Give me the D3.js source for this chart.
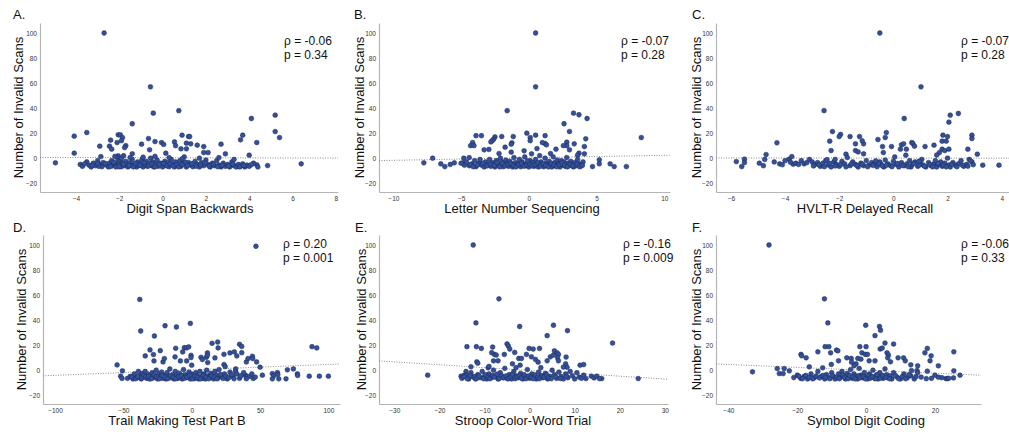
<!DOCTYPE html>
<html>
<head>
<meta charset="utf-8">
<script src="https://cdn.jsdelivr.net/npm/d3@7"></script>
<style>
body{margin:0;background:#fff}
svg{display:block;font-family:"Liberation Sans",Arial,sans-serif}
</style>
</head>
<body>
<svg width="1009" height="432"></svg>
<script>

// ---- data ----
var panelLetters = ["A.", "B.", "C.", "D.", "E.", "F."];
var xTitles = ["Digit Span Backwards", "Letter Number Sequencing", "HVLT-R Delayed Recall",
               "Trail Making Test Part B", "Stroop Color-Word Trial", "Symbol Digit Coding"];
var rhoLabels = ["ρ = -0.06", "ρ = -0.07", "ρ = -0.07", "ρ = 0.20", "ρ = -0.16", "ρ = -0.06"];
var pLabels = ["p = 0.34", "p = 0.28", "p = 0.28", "p = 0.001", "p = 0.009", "p = 0.33"];
var yTitle = "Number of Invalid Scans";
var yTicks = [-20, 0, 20, 40, 60, 80, 100];

var xTicksA = [-4, -2, 0, 2, 4, 6, 8];
var xTicksB = [-10, -5, 0, 5, 10];
var xTicksC = [-6, -4, -2, 0, 2, 4];
var xTicksD = [-100, -50, 0, 50, 100];
var xTicksE = [-30, -20, -10, 0, 10, 20, 30];
var xTicksF = [-40, -20, 0, 20];

// fit lines: [x1, y1], [x2, y2]
var fitA = [[-5.66, 0.6], [8.1, 0.1]];
var fitB = [[-11.06, -1.9], [10.4, 2.4]];
var fitC = [[-6.55, 0.2], [4.27, 0.0]];
var fitD = [[-108.8, -4.5], [108.5, 5.0]];
var fitE = [[-33.4, 7.4], [30.7, -7.2]];
var fitF = [[-43.6, 5.0], [33.4, -4.0]];

var ptsA = [[-2.7,100],[-0.56,57],[-0.43,36],[0.75,38],[-1.4,27.5],[-3.5,20.5],[-4.08,17.6],[-4.08,4],[-4.95,-3.7],
  [4.1,31.7],[5.2,34.4],[5.2,21.3],[5.4,16.5],[3.7,18.4],[3.6,14.7],[4.35,12.5],[4.0,2.4],[4.85,-5.9],[6.4,-4.5],
  [4.35,-5.3],[4.4,-7],[2.7,11.2],[2.9,3.5],[1.6,10.4],[1.9,9.3],[1.9,4.5],[2.1,4.5],[1.2,17.3],[1.25,17.3],[0.9,18.4],
  [1.1,12],[1.3,11.5],[1.1,7.5],[0.85,7.5],[0.55,13],[0.6,10],[-0.05,12.5],[0.05,11],[0.15,4],[-0.65,15.7],[-0.35,13.3],
  [-0.97,11.2],[-0.6,6.7],[-2.05,18.7],[-1.95,18.7],[-1.85,16.5],[-2.1,12.5],[-1.9,14],[-1.7,10],[-1.75,8.5],[-2.4,14.4],
  [-2.45,9.6],[-2.35,7.2],[-2.9,9.6],[-2.85,1.3],[-2.05,1.9],[-1.4,3.5],
  [-3.8,-5],[-3.7,-6.5],[-3.5,-3],[-3.4,-5.5],[-3.3,-7],[-3.2,-4],[-3.1,-6],[-3.0,-2],[-2.9,-5],[-2.8,-6.8],[-2.75,-3.5],
  [-2.6,-5.5],[-2.5,-7],[-2.45,-4],[-2.35,-2],[-2.3,-6],[-2.2,-4.5],[-2.15,-7],[-2.1,0.5],[-2.05,-3],[-2.0,-5.5],[-1.95,-1.5],
  [-1.9,-6.8],[-1.85,-4],[-1.8,2],[-1.75,-6],[-1.7,-2.5],[-1.65,-5],[-1.6,-7],[-1.5,-3.5],[-1.45,-6],[-1.4,-1],[-1.3,-5],
  [-1.2,-7],[-1.15,-3],[-1.1,-6],[-1.0,-4.5],[-0.95,-1],[-0.9,-7],[-0.8,-5.5],[-0.75,-2.5],[-0.7,-6.5],[-0.6,-4],[-0.55,0],
  [-0.5,-6],[-0.45,-3],[-0.4,-7],[-0.3,-5],[-0.25,-1.5],[-0.2,-6.5],[-0.1,-4],[0,-7],[0.1,-2.5],[0.15,-5.5],[0.25,-3.5],
  [0.3,-6.8],[0.4,-1],[0.45,-5],[0.55,-7],[0.6,-3],[0.7,-5.5],[0.8,-2],[0.85,-6.5],[0.95,-4],[1.0,1],[1.1,-7],[1.2,-3.5],
  [1.3,-5.5],[1.4,-6.8],[1.5,-2.5],[1.6,-5],[1.7,-7],[1.8,-3.5],[1.9,-6],[2.0,-1.5],[2.1,-5],[2.2,-7],[2.3,-4],[2.4,-6],
  [2.5,-2],[2.6,-5.5],[2.7,-7],[2.8,-4],[2.9,-6.5],[3.0,-5],[3.1,-7],[3.2,-3],[3.3,-6],[3.4,-7],[3.5,-5],[3.6,-6.5],
  [3.7,-4.5],[3.8,-7],[3.9,-5.5],[4.0,-6.5],[4.2,-4],[-2.2,1.5],[-1.9,0],[-1.5,0.5],[-0.9,0.8],[-0.35,1.5],[0.3,0.5],
  [0.9,-0.5],[1.7,0],[2.6,0.5],[3.3,-1],
  [-3.6,-4.5],[-3.25,-5.8],[-2.95,-6.5],[-2.65,-4.2],[-2.4,-6.6],[-2.25,-3.2],[-2.0,-6.9],[-1.8,-4.8],[-1.55,-5.9],
  [-1.35,-6.9],[-1.25,-4.2],[-1.05,-5.6],[-0.85,-3.6],[-0.65,-6.2],[-0.5,-4.6],[-0.35,-6.8],[-0.15,-5.2],[0.05,-4.2],
  [0.2,-6.2],[0.35,-4.4],[0.5,-6.1],[0.65,-4.8],[0.75,-6.9],[0.9,-5.1],[1.05,-3.2],[1.15,-5.8],[1.35,-4.4],[1.55,-6.4],
  [1.75,-5.2],[1.95,-3.8],[2.15,-6.4],[2.35,-5],[2.55,-6.8],[2.75,-5.6],[3.05,-6.2],[3.25,-4.6],[3.55,-7],[3.75,-5.8],
  [4.1,-5.2],[-3.0,-4.2]];

var ptsB = [[0.5,100],[0.5,57],[-1.6,38],[2.6,27.5],[3.3,36],[3.7,34.7],[4.3,31.7],[3.0,21.3],[8.3,16.5],[4.2,15.5],
  [4.1,9.3],[4.1,3.5],[3.7,4],[3.6,2.4],[3.35,11.5],[2.8,12.8],[2.8,10],[2.55,10],[3.0,6.7],[2.0,7.2],[1.6,3.7],[1.2,18],
  [1.2,11.7],[1.3,10.7],[1.0,12.5],[0.5,18.4],[0.1,16.5],[-0.15,20],[0.1,14],[0.6,7.7],[0.2,3.5],[-0.35,5.9],[-1.15,17.3],
  [-1.25,12.3],[-1.3,11.2],[-1.3,4.8],[-2.0,17.3],[-1.75,8.8],[-2.2,3.7],[-2.5,17],[-2.6,15.2],[-2.7,14],[-2.8,13],
  [-2.95,7],[-3.3,6.7],[-3.5,18],[-3.9,18],[-4.15,12.5],[-4.3,10],[-4.05,10],[-4.4,0.5],[-4.8,0],[-4.85,-3.7],[-4.75,-5.6],
  [-7.1,0],[-7.75,-3.7],[-6.5,-4.5],[-6.2,-6.7],[-5.8,-5],[-5.5,-3.7],[-5.0,-4],[4.7,-6.7],[5.2,-1.3],[5.2,-4.5],
  [6.0,-4.5],[6.3,-6.7],[7.2,-6.7],
  [-4.6,-3],[-4.4,-6],[-4.2,-4.5],[-4.0,-2],[-3.9,-6.8],[-3.7,-4],[-3.6,-1],[-3.5,-5.5],[-3.3,-7],[-3.2,-3],[-3.0,-5],
  [-2.9,-1],[-2.8,-6.5],[-2.7,-3.5],[-2.6,-5],[-2.5,-7],[-2.4,-2],[-2.3,-4.5],[-2.2,-6],[-2.1,0],[-2.0,-3],[-1.9,-6.8],
  [-1.8,-5],[-1.7,-1.5],[-1.6,-4],[-1.5,-6.5],[-1.4,-2.5],[-1.3,-5],[-1.2,-7],[-1.1,0.5],[-1.0,-3.5],[-0.9,-6],[-0.8,-4.5],
  [-0.7,-1],[-0.6,-6.8],[-0.5,-3],[-0.4,-5],[-0.3,1],[-0.2,-6],[-0.1,-4],[0,-7],[0.1,-2],[0.2,-5],[0.3,-3.5],[0.4,-6.5],
  [0.5,-1],[0.6,-4.5],[0.7,-7],[0.8,2],[0.9,-3],[1.0,-5.5],[1.1,-6.8],[1.2,0],[1.3,-4],[1.4,-6],[1.5,-2.5],[1.6,-5],
  [1.7,-7],[1.8,1],[1.9,-3.5],[2.0,-6],[2.1,-1.5],[2.2,-4.5],[2.3,-7],[2.4,-2],[2.5,-5.5],[2.6,-3],[2.7,-6.5],[2.8,0.5],
  [2.9,-4],[3.0,-6],[3.1,-2.5],[3.2,-5],[3.3,-7],[3.4,-3.5],[3.5,-6],[3.6,-1],[3.7,-4.5],[3.8,-6.5],[3.9,-5],[4.0,-3],
  [-4.3,-5.2],[-4.1,-6.8],[-3.8,-5.4],[-3.4,-4.2],[-3.1,-6.2],[-2.85,-4.6],[-2.55,-5.8],[-2.35,-3.4],[-2.15,-6.9],
  [-1.95,-4.4],[-1.75,-6.2],[-1.55,-5.2],[-1.35,-4.2],[-1.15,-5.8],[-0.95,-6.9],[-0.75,-5.2],[-0.55,-4.2],[-0.35,-6.4],
  [-0.15,-5.2],[0.05,-4.6],[0.25,-6.2],[0.45,-5.2],[0.65,-3.6],[0.85,-6.4],[1.05,-4.4],[1.25,-5.8],[1.45,-6.9],[1.65,-4.2],
  [1.85,-5.6],[2.05,-6.8],[2.25,-5.2],[2.45,-3.8],[2.65,-5.8],[2.85,-6.9],[3.05,-4.6],[3.25,-6.2],[3.55,-4.8],[3.75,-6.8],
  [3.95,-5.8],[-0.1,-2.2]];

var ptsC = [[-0.5,100],[1.02,57],[-2.56,38],[0.4,31.7],[2.1,34.4],[2.4,35.7],[2.05,28.8],[-4.3,12.3],[-4.7,2.9],
  [-2.25,21.3],[-1.95,19],[-2.0,17.3],[-2.35,13.6],[-2.3,6.1],[-1.6,17.3],[-1.25,17.3],[-1.4,11.5],[-1.1,11.5],
  [-1.15,13.9],[-1.4,6.1],[-1.3,5],[-1.1,3.5],[-1.75,3.2],[-0.57,14.9],[-0.26,20.5],[-0.3,16.5],[-0.4,9.3],[-0.37,4.5],
  [-0.07,9.3],[0.26,7.2],[0.3,10.7],[0.38,11.5],[0.68,12.5],[0.72,11.7],[0.78,9.6],[0.48,7.2],[0.46,2.4],[1.17,9.3],
  [1.5,10.4],[1.83,18.4],[2.0,17.3],[1.8,13.6],[1.95,13.6],[1.8,7.2],[1.9,6.1],[2.05,7.2],[1.7,4.5],[1.6,2.5],[2.75,7.2],
  [2.9,18.4],[2.9,15.7],[3.1,3.2],[3.3,-5.6],[3.9,-5.6],[-5.8,-2.7],[-5.5,-0.8],[-5.5,-3.5],[-5.6,-6.7],[-4.95,-4],
  [-4.8,-6],[-4.75,-1],[-3.85,-0.8],[-3.75,1.3],[-3.7,-4.8],
  [-4.4,-3],[-4.2,-4.5],[-4.0,-2],[-3.6,-4],[-3.4,-2],[-3.3,-4.5],[-3.1,-1],[-3.0,-3],[-2.9,-5],[-2.8,-3.5],[-2.7,-6.5],
  [-2.6,-4],[-2.5,-2],[-2.4,-5.5],[-2.3,-7],[-2.2,-3],[-2.15,-1],[-2.1,-5],[-2.0,-6.5],[-1.9,-2.5],[-1.8,-4.5],[-1.7,0.5],
  [-1.6,-6],[-1.5,-3],[-1.4,-5],[-1.3,-7],[-1.2,-4],[-1.1,-6],[-1.0,-2],[-0.9,-5.5],[-0.8,-3.5],[-0.7,-4.5],[-0.6,-6.8],
  [-0.5,-3],[-0.45,-5],[-0.35,-7],[-0.3,-1.5],[-0.2,-4.5],[-0.1,-6],[0,-2.5],[0.05,1],[0.1,-5],[0.2,-7],[0.3,-3.5],
  [0.4,-6],[0.5,-4.5],[0.6,-2],[0.65,-7],[0.7,-5],[0.8,-3],[0.9,-6.5],[1.0,-4],[1.05,-1],[1.1,-5.5],[1.2,-7],[1.3,-3.5],
  [1.4,-6],[1.5,-4.5],[1.55,-2],[1.6,-7],[1.7,-5],[1.75,-3],[1.8,-6.5],[1.9,-4],[2.0,0],[2.05,-5.5],[2.1,-7],[2.2,-3.5],
  [2.3,-6],[2.4,-4.5],[2.5,-2],[2.6,-6.5],[2.7,-5],[2.8,-1],[2.9,-3],
  [-4.1,-5.2],[-3.8,-3.2],[-3.5,-5],[-3.2,-3.6],[-2.95,-6.2],[-2.75,-5.2],[-2.55,-6.8],[-2.35,-4.2],[-2.15,-6.2],
  [-1.95,-5.2],[-1.75,-6.9],[-1.55,-4.6],[-1.35,-5.8],[-1.15,-4.8],[-0.95,-6.8],[-0.75,-5.8],[-0.55,-4.2],[-0.4,-6.2],
  [-0.25,-5.6],[-0.05,-6.8],[0.15,-4.2],[0.35,-5.8],[0.55,-6.8],[0.75,-4.2],[0.95,-5.6],[1.15,-6.4],[1.35,-5.2],
  [1.45,-6.9],[1.65,-4.2],[1.85,-5.8],[1.95,-6.9],[2.15,-4.8],[2.35,-6.8],[2.55,-5.6],[2.75,-6.4],[2.95,-5.2],[2.85,-2.2],
  [0.95,-2.4],[-0.65,-2.2],[-2.45,-1.2]];

var ptsD = [[47,99],[-38,56.5],[-37.3,31.3],[-1,37.4],[-19.5,35.5],[-11.2,34.5],[-27.3,27.3],[-54.6,4.2],[-50.7,-0.5],
  [-52,-4.8],[-51,-6.6],[-42.7,-5.8],[-34,11.4],[-30.5,16.2],[-28,12.5],[-27.6,7.4],[-23,15.6],[-21,6.6],[-20,9.3],
  [-11.7,17.5],[-12.2,10.6],[-8.3,7.4],[-6.6,14.6],[-5.4,18],[-3.9,17.8],[-2.2,18.6],[-3.7,7.4],[-0.5,11.9],[-0.5,10.1],
  [0,4],[6.8,10.3],[7.8,8.5],[10.7,10.3],[11.5,13.8],[11.5,11.9],[11.7,6.1],[14.9,21.5],[19,22.5],[19.3,17.8],[17,9.8],
  [23.6,4.5],[24.5,2.8],[23.6,12.7],[28,13.8],[31.2,14.6],[33,11.4],[32.2,1],[32,-1],[35,20.7],[36.6,19],[36.6,14],
  [40,6.6],[41.2,9.3],[44.4,11.1],[44.6,9.3],[47.5,6.6],[50,2.4],[39.3,-4],[40,-5.5],[45,-6.6],[46.5,-5.5],[51.7,-4],
  [59,-2.7],[60,-4.5],[59,-6.9],[62.7,-1.9],[63,-3.4],[63.7,-6.9],[69,-6.9],[70,0.3],[74.4,1],[77.3,-2.9],[77.5,-4.2],
  [86,-4.8],[88,18.8],[91.5,17.8],[93.4,-4.8],[100,-4.8],
  [-47,-6.5],[-45,-5],[-43,-7],[-42,-3],[-40,-6],[-39,-1],[-38,-4.5],[-37,-7],[-36,-2.5],[-35,-5.5],[-34,-1],[-33,-6.5],
  [-32,-3.5],[-31,-7],[-30,-4],[-29,-2],[-28,-6],[-27,-5],[-26,0],[-25,-7],[-24,-3],[-23,-5.5],[-22,-1.5],[-21,-6.5],
  [-20,-4],[-19,-7],[-18,-2],[-17,-5],[-16,1],[-15,-6],[-14,-3.5],[-13,-7],[-12,-1],[-11,-4.5],[-10,-6.5],[-9,-2.5],
  [-8,-5],[-7,-7],[-6,0.5],[-5,-3.5],[-4,-6],[-3,-4.5],[-2,-1.5],[-1,-7],[0,-3],[1,-5.5],[2,-6.8],[3,-2],[4,-4.5],
  [5,-7],[6,-1],[7,-5],[8,-6.5],[9,-3],[10,-7],[11,0],[12,-4.5],[13,-6],[14,-2.5],[15,-5],[16,-7],[17,-1],[18,-4],
  [19,-6.5],[20,0.5],[22,-5.5],[24,-3],[26,-7],[28,-1.5],[30,-5],[33,-3],[35,-6.5],[38,-2],[42,-5],[44,-3],
  [-44,-5.2],[-41,-6.8],[-39.5,-5.2],[-36.5,-6.2],[-35,-4.2],[-33.5,-5.2],[-31.5,-4.8],[-29.5,-6.8],[-27.5,-3.6],
  [-25.5,-5.2],[-23.5,-6.8],[-21.5,-4.2],[-19.5,-5.6],[-17.5,-6.8],[-15.5,-4.6],[-13.5,-5.6],[-11.5,-6.8],[-9.5,-5.2],
  [-7.5,-4.2],[-5.5,-6.4],[-3.5,-5.6],[-1.5,-4.2],[0.5,-6.8],[2.5,-4.8],[4.5,-5.8],[6.5,-6.9],[8.5,-4.2],[10.5,-5.6],
  [12.5,-6.8],[14.5,-4.4],[16.5,-5.4],[18.5,-6.8],[21,-3.4],[23,-6.6],[25,-4.8],[27,-6],[29,-3.6],[31,-6.8],[36,-4.4],
  [40,-6.8]];

var ptsE = [[-12.5,100],[-6.8,57],[-11.9,37.8],[-2.2,34.9],[5.3,35.9],[8.4,31.6],[3.9,27.6],[18.4,21.7],[-22.6,-4],
  [24.1,-6.7],[-13.9,18.8],[-11.8,18.8],[-10.7,17.4],[-8.2,18.5],[-5,21],[-4.7,19.3],[-4.4,16.9],[-5.6,12.6],[-3.3,14.2],
  [-2.4,9.4],[-1.8,9.4],[-0.1,17.4],[0.8,16.9],[2.2,17.4],[-0.7,12.6],[0.4,10.7],[1.3,8.6],[1.9,6.4],[4.6,10.7],
  [5.3,12.1],[5.5,15.5],[6.1,13.9],[6.4,12.6],[6.2,9.9],[6.4,7.5],[3.9,7.5],[8.1,10.5],[8,5.1],[8.3,2.4],[11.2,4],
  [12,4.5],[-11.7,6.7],[-11.5,5.6],[-13,2.7],[-14.1,-1],[-15.2,-4.8],[-14.5,-4],[-8.4,14],[-7.8,12.6],[-7.4,12.1],
  [-8,7.5],[-7,7.5],[-9.2,1.9],[-3.8,5.1],[-2.1,4],[13.7,-4.8],[14.3,-6.2],[14.9,-4.8],[16,-6.7],[15.5,-6.7],[12.5,-6.7],
  [-15,-6.5],[-14,-4],[-13.5,-7],[-13,-2],[-12.5,-5.5],[-12,-7],[-11.5,-3.5],[-11,-6],[-10.5,-1],[-10,-5],[-9.5,-7],
  [-9,-3],[-8.5,-6],[-8,0],[-7.5,-4.5],[-7,-7],[-6.5,-2],[-6,-5.5],[-5.5,1.5],[-5,-6.5],[-4.5,-3.5],[-4,-7],[-3.5,-1],
  [-3,-4.5],[-2.5,-6],[-2,-2.5],[-1.5,-7],[-1,-5],[-0.5,0.5],[0,-6.5],[0.5,-3],[1,-5],[1.5,-7],[2,-1.5],[2.5,-4.5],
  [3,-6],[3.5,-2.5],[4,-7],[4.5,-5],[5,0],[5.5,-3.5],[6,-6.5],[6.5,-1.5],[7,-5],[7.5,-7],[8,-3],[8.5,-6],[9,-1],
  [9.5,-4.5],[10,-7],[10.5,-2],[11,-5.5],[11.5,-6.5],[12,-4],[-9,3],[-3,2],[2.5,2],[7.5,2.5],
  [-14.5,-5.2],[-13.8,-6.8],[-13.2,-4.2],[-12.2,-5.2],[-11.8,-6.6],[-11.2,-4.6],[-10.2,-6.8],[-9.8,-3.6],[-9.2,-5.6],
  [-8.8,-6.8],[-8.2,-4.2],[-7.8,-5.6],[-7.2,-3.2],[-6.8,-6.8],[-6.2,-4.4],[-5.8,-6.2],[-5.2,-4.6],[-4.8,-6.9],[-4.2,-5.2],
  [-3.8,-3.2],[-3.2,-6.8],[-2.8,-5.2],[-2.2,-4.2],[-1.8,-6.4],[-1.2,-3.6],[-0.8,-6.8],[-0.2,-4.6],[0.3,-5.6],[0.8,-6.8],
  [1.2,-3.8],[1.8,-5.8],[2.2,-6.8],[2.8,-4.6],[3.2,-5.6],[3.8,-3.6],[4.2,-6.2],[4.8,-6.8],[5.8,-5.2],[6.8,-6.6],[8.2,-4.8]];

var ptsF = [[-28.2,100],[-12.1,57],[-11.1,37.8],[-0.1,35.9],[3.9,34.9],[4.2,31.9],[2.6,27.6],[5.5,21.7],[8,20.9],
  [-33,-1.3],[-25.8,1.3],[-25.2,-2.7],[-23.8,1.3],[-24.1,-2.7],[-22.3,-0.5],[-21,-5.9],[-18.9,12.6],[-18.7,11.5],
  [-17.4,9.9],[-16.5,2.7],[-14,14.7],[-11.9,18.8],[-10.8,18.8],[-10.3,13.9],[-8.6,16.1],[-8.2,15.5],[-8,7.5],[-10.1,4.6],
  [-12.6,1.9],[-5.6,9.9],[-4.3,9.4],[-4.2,6.4],[-2.4,9.4],[-1.8,18.8],[0,18.8],[-1.2,13.9],[-0.2,12.6],[0.4,12.6],
  [-1.5,8.8],[0.9,7.5],[2.6,7.5],[-2.9,5.1],[-3.5,3.5],[4.1,16.9],[4.7,17.7],[6.1,13.9],[6.5,12.1],[6.3,9.9],[7.1,6.7],
  [9.3,9.9],[10.9,9.9],[11.4,7.5],[13,4.3],[13.2,-0.3],[15,3.5],[14.8,-0.3],[17.1,13.9],[17.8,17.4],[18.9,11.5],
  [18.6,7.5],[17.8,-0.8],[21,3.5],[25.5,14.7],[25.5,-0.5],[25.4,-6.2],[27.3,-4],[23.2,-6.7],[23.7,-6.7],
  [-20,-4],[-19,-6.5],[-18,-5],[-17,-7],[-16,-3],[-15,-6],[-14,-1],[-13,-5],[-12,-7],[-11.5,-3.5],[-11,-6],[-10,-2],
  [-9.5,-5],[-9,-7],[-8,-3],[-7.5,-6],[-7,-1],[-6.5,-4.5],[-6,-7],[-5.5,-2.5],[-5,-5.5],[-4.5,0.5],[-4,-6.5],[-3.5,-3],
  [-3,-5],[-2.5,-7],[-2,1.5],[-1.5,-4],[-1,-6],[-0.5,-2],[0,-5.5],[0.5,-7],[1,-3],[1.5,-5],[2,0],[2.5,-6.5],[3,-4],
  [3.5,-7],[4,-2],[4.5,-5],[5,-6.5],[5.5,1],[6,-3.5],[6.5,-6],[7,-4.5],[7.5,-7],[8,-2],[9,-5.5],[10,-7],[11,-3],
  [12,-6],[13,-4.5],[14,-7],[15,-2],[16,-5.5],[19,-6.5],[20,-4],[22,-6],[24,-6.5],
  [-19.5,-4.8],[-18.5,-6.8],[-17.5,-4.2],[-16.5,-5.8],[-15.5,-6.9],[-14.5,-4.6],[-13.5,-6.2],[-12.5,-4.2],[-11.8,-5.6],
  [-10.5,-6.8],[-9.8,-4.2],[-8.5,-5.6],[-7.8,-6.8],[-6.8,-3.6],[-6.2,-5.6],[-5.2,-6.8],[-4.8,-4.2],[-3.8,-5.6],[-3.2,-6.9],
  [-2.2,-4.4],[-1.8,-6.2],[-0.8,-5.2],[-0.2,-6.9],[0.8,-4.2],[1.2,-6.4],[1.8,-5.2],[2.8,-6.8],[3.2,-3.6],[4.2,-6.4],
  [4.8,-4.2],[5.8,-5.8],[6.8,-6.8],[8.5,-4.2],[9.5,-6.8],[10.5,-5.2],[11.5,-6.8],[12.5,-3.6],[14.5,-5.2],[17.5,-6.8],
  [21,-5.6]];

var allPts = [ptsA, ptsB, ptsC, ptsD, ptsE, ptsF];
var allFits = [fitA, fitB, fitC, fitD, fitE, fitF];
var allXTicks = [xTicksA, xTicksB, xTicksC, xTicksD, xTicksE, xTicksF];

// ---- layout ----
var layout = [
  {left: 40,  right: 338,  top: 23,  bottom: 192, xd: [-5.66, 8.1],   ytx: 18,  lx: 13,  ly: 19,  sx: 284, sy: 45,  tcx: 190},
  {left: 379, right: 670,  top: 23,  bottom: 192, xd: [-11.06, 10.42], ytx: 359, lx: 354, ly: 19,  sx: 621, sy: 45,  tcx: 522},
  {left: 716, right: 1009, top: 23,  bottom: 192, xd: [-6.55, 4.27],  ytx: 696, lx: 692, ly: 19,  sx: 961, sy: 45,  tcx: 865},
  {left: 43,  right: 340,  top: 235, bottom: 404, xd: [-108.8, 108.5], ytx: 21, lx: 13,  ly: 232, sx: 283, sy: 248, tcx: 177},
  {left: 379, right: 668,  top: 235, bottom: 404, xd: [-33.4, 30.7],  ytx: 361, lx: 355, ly: 232, sx: 623, sy: 248, tcx: 523},
  {left: 716, right: 981,  top: 235, bottom: 404, xd: [-43.6, 33.4],  ytx: 696, lx: 692, ly: 232, sx: 961, sy: 248, tcx: 866}
];

var svg = d3.select("svg");
svg.append("rect").attr("width", 1009).attr("height", 432).attr("fill", "#fff");

layout.forEach(function(p, i) {
  var x = d3.scaleLinear().domain(p.xd).range([p.left, p.right]);
  var y = d3.scaleLinear().domain([-27, 108]).range([p.bottom, p.top]);
  var g = svg.append("g");

  // axes
  var ya = g.append("g").attr("transform", "translate(" + p.left + ",0)")
    .call(d3.axisLeft(y).tickValues(yTicks).tickSize(0).tickSizeOuter(0).tickPadding(3));
  var xa = g.append("g").attr("transform", "translate(0," + p.bottom + ")")
    .call(d3.axisBottom(x).tickValues(allXTicks[i]).tickSize(0).tickSizeOuter(0).tickPadding(4));
  [ya, xa].forEach(function(a) {
    a.select(".domain").attr("stroke", "#b5b5b5").attr("stroke-width", 1.2);
    a.selectAll("text").attr("font-size", "6.5px").attr("fill", "#333")
      .attr("font-family", "'Liberation Sans', Arial, sans-serif");
  });

  // fit line
  var f = allFits[i];
  g.append("line")
    .attr("x1", x(f[0][0])).attr("y1", y(f[0][1]))
    .attr("x2", x(f[1][0])).attr("y2", y(f[1][1]))
    .attr("stroke", "#808080").attr("stroke-width", 0.9).attr("stroke-dasharray", "1,1.5");

  // points
  g.append("g").selectAll("circle")
    .data(allPts[i])
    .enter().append("circle")
      .attr("cx", function(d) { return x(d[0]); })
      .attr("cy", function(d) { return y(d[1]); })
      .attr("r", 2.4)
      .attr("fill", "#34509b")
      .attr("stroke", "#1b2a55")
      .attr("stroke-width", 0.5);

  // titles
  g.append("text")
    .attr("transform", "translate(" + p.ytx + "," + ((p.top + p.bottom) / 2) + ") rotate(-90)")
    .attr("text-anchor", "middle").attr("dominant-baseline", "central")
    .attr("font-size", "13px").attr("fill", "#111")
    .text(yTitle);
  g.append("text")
    .attr("x", p.tcx).attr("y", p.bottom + 21)
    .attr("text-anchor", "middle").attr("font-size", "13px").attr("fill", "#111")
    .text(xTitles[i]);
  g.append("text")
    .attr("x", p.lx).attr("y", p.ly)
    .attr("font-size", "13px").attr("fill", "#111")
    .text(panelLetters[i]);

  // stats
  g.append("text").attr("x", p.sx).attr("y", p.sy)
    .attr("font-size", "12px").attr("fill", "#111").text(rhoLabels[i]);
  g.append("text").attr("x", p.sx).attr("y", p.sy + 14)
    .attr("font-size", "12px").attr("fill", "#111").text(pLabels[i]);
});

</script>
</body>
</html>
